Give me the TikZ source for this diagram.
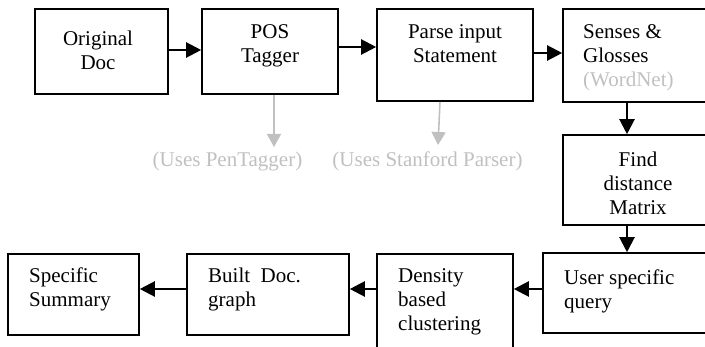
\documentclass[tikz,border=0pt]{standalone}
\usepackage{fontspec}
\setmainfont{Liberation Serif}
\usetikzlibrary{arrows.meta,fit}
\definecolor{lightg}{RGB}{192,192,192}
\begin{document}
\begin{tikzpicture}[x=1pt,y=-1pt,
  box/.style={draw,line width=1.6pt,inner sep=0pt},
  lbl/.style={inner sep=0pt,font=\fontsize{21}{24}\selectfont,anchor=base},
  lblw/.style={lbl,anchor=base west},
  arr/.style={line width=2.2pt,-{Triangle[length=15pt,width=15pt]}},
  garr/.style={draw=lightg,line width=1.6pt,-{Triangle[length=13pt,width=14pt]}}]
\useasboundingbox (0,0) rectangle (705,347);
\clip (0,0) rectangle (705,347);
% boxes
\node[box,fit={(35,9)(168,94)}] (orig) {};
\node[box,fit={(202,9)(338,94)}] (pos) {};
\node[box,fit={(377,9)(533,101)}] (parse) {};
\node[box,fit={(563,9)(713,102)}] (sen) {};
\node[box,fit={(563,135)(713,225)}] (find) {};
\node[box,fit={(543,253)(713,333)}] (user) {};
\node[box,fit={(377,254)(513,365)}] (dens) {};
\node[box,fit={(187,254)(349,335)}] (built) {};
\node[box,fit={(8,254)(139,335)}] (spec) {};
% texts
\node[lbl] (torig) at (98,46) {\begin{tabular}[t]{@{}c@{}}Original\\Doc\end{tabular}};
\node[lbl] (tpos) at (270,39) {\begin{tabular}[t]{@{}c@{}}POS\\Tagger\end{tabular}};
\node[lbl] (tparse) at (455,39) {\begin{tabular}[t]{@{}c@{}}Parse input\\Statement\end{tabular}};
\node[lblw] (tsen) at (583,39) {\begin{tabular}[t]{@{}l@{}}Senses \&\\Glosses\\\textcolor{lightg}{(WordNet)}\end{tabular}};
\node[lbl] (tfind) at (638,167) {\begin{tabular}[t]{@{}c@{}}Find\\distance\\Matrix\end{tabular}};
\node[lblw] (tuser) at (564,285) {\begin{tabular}[t]{@{}l@{}}User specific\\query\end{tabular}};
\node[lblw] (tdens) at (398,283) {\begin{tabular}[t]{@{}l@{}}Density\\based\\clustering\end{tabular}};
\node[lblw] (tbuilt) at (208,283) {\begin{tabular}[t]{@{}l@{}}Built\ \ Doc.\\graph\end{tabular}};
\node[lblw] (tspec) at (29,283) {\begin{tabular}[t]{@{}l@{}}Specific\\Summary\end{tabular}};
\node[lbl,text=lightg] (tpen) at (227.5,167) {(Uses PenTagger)};
\node[lbl,text=lightg] (tstan) at (427.5,167) {(Uses Stanford Parser)};
% helper coordinates
\coordinate (ya) at (0,50);
\coordinate (yb) at (0,47);
\coordinate (yc) at (0,53);
\coordinate (yd) at (0,289);
\coordinate (xa) at (627,0);
\coordinate (g1) at (274,147);
\coordinate (g2s) at (440,0);
\coordinate (g2) at (438,145);
% connectors
\draw[arr] (orig.east |- ya) -- (pos.west |- ya);
\draw[arr] (pos.east |- yb) -- (parse.west |- yb);
\draw[arr] (parse.east |- yc) -- (sen.west |- yc);
\draw[arr] (sen.south -| xa) -- (find.north -| xa);
\draw[arr] (find.south -| xa) -- (user.north -| xa);
\draw[arr] (user.west |- yd) -- (dens.east |- yd);
\draw[arr] (dens.west |- yd) -- (built.east |- yd);
\draw[arr] (built.west |- yd) -- (spec.east |- yd);
\draw[garr] (pos.south -| g1) -- (g1);
\draw[garr] (parse.south -| g2s) -- (g2);
\end{tikzpicture}
\end{document}
